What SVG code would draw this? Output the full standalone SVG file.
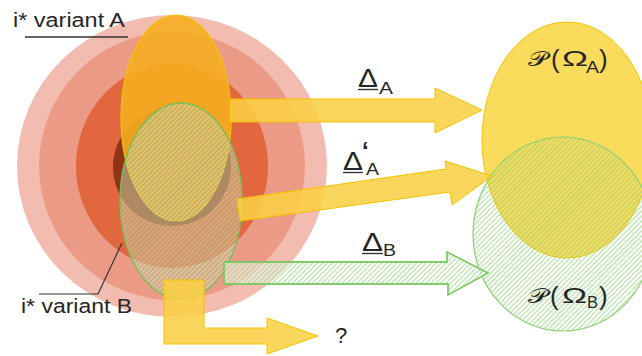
<svg xmlns="http://www.w3.org/2000/svg" width="642" height="356" viewBox="0 0 642 356">
<defs>
<pattern id="hatchL" patternUnits="userSpaceOnUse" width="3.5" height="3.5" patternTransform="rotate(45)">
<line x1="1" y1="0" x2="1" y2="3.5" stroke="#7f9f55" stroke-width="1" stroke-opacity="0.7"/>
</pattern>
<pattern id="hatchG" patternUnits="userSpaceOnUse" width="3.5" height="3.5" patternTransform="rotate(45)">
<line x1="1" y1="0" x2="1" y2="3.5" stroke="#8fd07a" stroke-width="0.9" stroke-opacity="0.9"/>
</pattern>
</defs>
<style>
.lbl{font-family:"Liberation Sans",Arial,sans-serif;fill:#262626}
.math{font-family:"DejaVu Serif","Noto Sans","Liberation Serif",serif;fill:#262626}
.yarrow{fill:#f9d044;fill-opacity:0.87;stroke:#f5c000;stroke-width:1}
.garrow{stroke:#7cc862;stroke-width:1.3}
.uline{stroke:#333;stroke-width:1.4}
</style>

<g id="rings">
<ellipse cx="172" cy="166" rx="155" ry="151" fill="#f2bdb0"/>
<ellipse cx="172" cy="166" rx="133" ry="134" fill="#eb9b85"/>
<ellipse cx="172" cy="166" rx="96" ry="102" fill="#e2673f"/>
<circle cx="172" cy="167" r="59" fill="#8e3419"/>
</g>

<g id="variantA">
<ellipse cx="176" cy="118" rx="55" ry="103" fill="#f6ad20" fill-opacity="0.9" stroke="#f6c400" stroke-width="1.2"/>
</g>

<g id="variantB">
<ellipse cx="181" cy="201" rx="61" ry="98" fill="#ece6c4" fill-opacity="0.45"/>
<ellipse cx="181" cy="201" rx="61" ry="98" fill="url(#hatchL)" stroke="#74c05a" stroke-width="1.3"/>
</g>

<g id="omegaA">
<ellipse cx="567" cy="140" rx="85" ry="118" fill="#fadb5c" stroke="#f2c400" stroke-width="1"/>
</g>

<g id="omegaB">
<ellipse cx="563" cy="234" rx="90" ry="97" fill="url(#hatchG)" stroke="#8ccf72" stroke-width="1.2"/>
</g>

<g id="connectors">
<polygon class="yarrow" points="230,99 435,99 435,88 482,110 435,133 435,122 230,122"/>
<polygon class="yarrow" points="237,199 446,169 445,161 492,176 452,205 450,192 240,221"/>
<polygon class="garrow" fill="#ffffff" fill-opacity="0.55" points="224,262 447,262 447,252 488,273 448,295 448,284 224,284"/>
<polygon class="garrow" fill="url(#hatchG)" points="224,262 447,262 447,252 488,273 448,295 448,284 224,284"/>
<polygon class="yarrow" points="164,280 204,280 204,328 267,328 267,318 318,336 267,354 267,344 164,344"/>
</g>

<g id="labels">
<text class="lbl" x="13" y="27" font-size="20" textLength="112" lengthAdjust="spacingAndGlyphs">i* variant A</text>
<line class="uline" x1="25" y1="37" x2="128" y2="37"/>
<text class="lbl" x="21" y="313" font-size="20" textLength="111" lengthAdjust="spacingAndGlyphs">i* variant B</text>
<polyline points="39,294 98,294 122,243" fill="none" stroke="#333" stroke-width="1.2"/>

<text class="lbl" x="358" y="87" font-size="26" textLength="20" lengthAdjust="spacingAndGlyphs">Δ</text>
<line class="uline" x1="358" y1="89.5" x2="378" y2="89.5"/>
<text class="lbl" x="379" y="94" font-size="16" textLength="14" lengthAdjust="spacingAndGlyphs">A</text>

<text class="lbl" x="343" y="170" font-size="26" textLength="20" lengthAdjust="spacingAndGlyphs">Δ</text>
<line class="uline" x1="343" y1="172.5" x2="363" y2="172.5"/>
<text class="lbl" x="362" y="159" font-size="24" font-weight="bold">‘</text>
<text class="lbl" x="366" y="175" font-size="16" textLength="13" lengthAdjust="spacingAndGlyphs">A</text>

<text class="lbl" x="362" y="251" font-size="26" textLength="21" lengthAdjust="spacingAndGlyphs">Δ</text>
<line class="uline" x1="362" y1="253.5" x2="383" y2="253.5"/>
<text class="lbl" x="383" y="256" font-size="16" textLength="13" lengthAdjust="spacingAndGlyphs">B</text>

<text class="math" x="528" y="66" font-size="20" textLength="19" lengthAdjust="spacingAndGlyphs">𝒫</text>
<text class="lbl" x="551" y="68" font-size="26">(</text>
<text class="lbl" x="562" y="66" font-size="22" textLength="26" lengthAdjust="spacingAndGlyphs">Ω</text>
<text class="lbl" x="586" y="73" font-size="16" textLength="13" lengthAdjust="spacingAndGlyphs">A</text>
<text class="lbl" x="599" y="68" font-size="26">)</text>

<text class="math" x="528" y="303" font-size="20" textLength="19" lengthAdjust="spacingAndGlyphs">𝒫</text>
<text class="lbl" x="550" y="305" font-size="26">(</text>
<text class="lbl" x="562" y="303" font-size="22" textLength="25" lengthAdjust="spacingAndGlyphs">Ω</text>
<text class="lbl" x="587" y="308" font-size="16" textLength="11" lengthAdjust="spacingAndGlyphs">B</text>
<text class="lbl" x="599" y="305" font-size="26">)</text>

<text class="lbl" x="335" y="343" font-size="22">?</text>
</g>
</svg>
